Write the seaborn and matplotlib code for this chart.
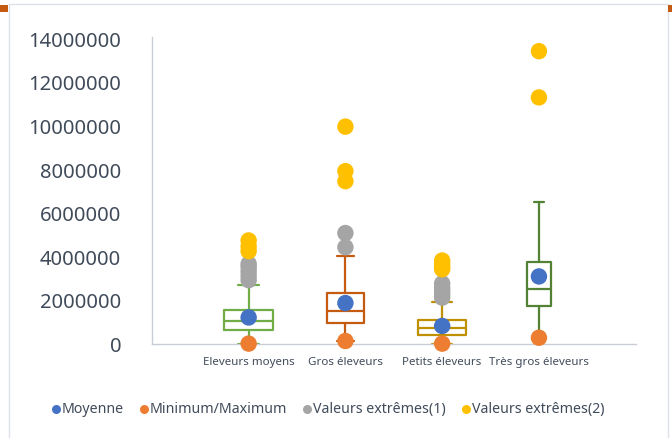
import numpy as np
import pandas as pd
import matplotlib
matplotlib.use("Agg")
import matplotlib.pyplot as plt
import seaborn as sns
from matplotlib.lines import Line2D
from matplotlib.patches import Rectangle

# --- Data ---
categories = ["Eleveurs moyens", "Gros éleveurs", "Petits éleveurs", "Très gros éleveurs"]

q1 = [650000, 1000000, 420000, 1760000]
medians = [1080000, 1540000, 750000, 2530000]
q3 = [1580000, 2340000, 1120000, 3800000]
whisker_low = [40000, 160000, 40000, 310000]
whisker_high = [2730000, 4080000, 1930000, 6520000]

means = [1240000, 1900000, 850000, 3120000]
minimums = [40000, 160000, 40000, 310000]

extremes_1 = {
    "Eleveurs moyens": [2950000, 3150000, 3350000, 3550000, 3700000],
    "Gros éleveurs": [4460000, 5110000],
    "Petits éleveurs": [2150000, 2300000, 2450000, 2600000, 2800000],
    "Très gros éleveurs": [],
}
extremes_2 = {
    "Eleveurs moyens": [4280000, 4500000, 4770000],
    "Gros éleveurs": [7490000, 7950000, 9990000],
    "Petits éleveurs": [3450000, 3550000, 3700000, 3850000],
    "Très gros éleveurs": [11330000, 13450000],
}

box_colors = ["#70AD47", "#C55A11", "#BF9000", "#548235"]
box_widths = [0.5, 0.39, 0.5, 0.24]
cap_widths = [0.21, 0.17, 0.21, 0.11]

series_colors = {
    "Moyenne": "#4472C4",
    "Minimum/Maximum": "#ED7D31",
    "Valeurs extrêmes(1)": "#A5A5A5",
    "Valeurs extrêmes(2)": "#FFC000",
}

# --- Build long table for the points ---
rows = []
for i, cat in enumerate(categories):
    rows.append({"pos": i + 1, "value": means[i], "serie": "Moyenne"})
    rows.append({"pos": i + 1, "value": minimums[i], "serie": "Minimum/Maximum"})
    for v in extremes_1[cat]:
        rows.append({"pos": i + 1, "value": v, "serie": "Valeurs extrêmes(1)"})
    for v in extremes_2[cat]:
        rows.append({"pos": i + 1, "value": v, "serie": "Valeurs extrêmes(2)"})
points = pd.DataFrame(rows)

sns.set_theme(style="white")
plt.rcParams["font.family"] = ["Noto Sans", "DejaVu Sans"]
text_color = "#404B5A"

fig = plt.figure(figsize=(6.72, 4.38), dpi=100)
ax = fig.add_axes([0.226, 0.2135, 0.72, 0.702])

# boxes
for i in range(len(categories)):
    c = box_colors[i]
    st = {
        "med": medians[i], "q1": q1[i], "q3": q3[i],
        "whislo": whisker_low[i], "whishi": whisker_high[i],
        "fliers": [], "label": categories[i],
    }
    ax.bxp([st], positions=[i + 1], widths=[box_widths[i]], capwidths=[cap_widths[i]],
           showfliers=False, patch_artist=False,
           boxprops=dict(color=c, linewidth=1.6),
           medianprops=dict(color=c, linewidth=1.6),
           whiskerprops=dict(color=c, linewidth=1.6),
           capprops=dict(color=c, linewidth=1.6), manage_ticks=False)

# points
sns.scatterplot(data=points, x="pos", y="value", hue="serie",
                palette=series_colors, s=140, edgecolor="none",
                legend=False, ax=ax, zorder=5, clip_on=False)

ax.set_xlim(0, 5)
ax.set_ylim(0, 14100000)
ax.set_yticks(np.arange(0, 14000001, 2000000))
ax.set_yticklabels([f"{int(v)}" for v in np.arange(0, 14000001, 2000000)],
                   fontsize=14.5, color=text_color)
ax.set_xticks(range(1, len(categories) + 1))
ax.set_xticklabels(categories, fontsize=8.3, color=text_color)
ax.tick_params(axis="both", length=0)
ax.tick_params(axis="y", pad=22)
ax.tick_params(axis="x", pad=9)
ax.set_xlabel("")
ax.set_ylabel("")
for side in ["top", "right"]:
    ax.spines[side].set_visible(False)
for side in ["left", "bottom"]:
    ax.spines[side].set_color("#C9CED6")
    ax.spines[side].set_linewidth(1.0)

# legend
handles = [Line2D([0], [0], marker="o", linestyle="", markersize=6.5,
                  markerfacecolor=col, markeredgecolor="none", label=name)
           for name, col in series_colors.items()]
fig.legend(handles=handles, loc="center", bbox_to_anchor=(0.488, 0.064), ncol=4,
           frameon=False, fontsize=10.2, handlelength=0.6, handletextpad=0.1,
           columnspacing=1.15, labelcolor=text_color)

# outer frame like the source
fig.patches.append(Rectangle((9 / 672, -0.01), 659 / 672, 0.005 + 1 - 2 / 438,
                             transform=fig.transFigure, fill=False,
                             edgecolor="#DDE1E6", linewidth=1.0))
fig.patches.append(Rectangle((0, 1 - 12 / 438), 8 / 672, 7 / 438,
                             transform=fig.transFigure, facecolor="#C55A11",
                             edgecolor="none"))
fig.patches.append(Rectangle((668 / 672, 1 - 12 / 438), 4 / 672, 7 / 438,
                             transform=fig.transFigure, facecolor="#C55A11",
                             edgecolor="none"))

fig.savefig("out.png", dpi=100)
